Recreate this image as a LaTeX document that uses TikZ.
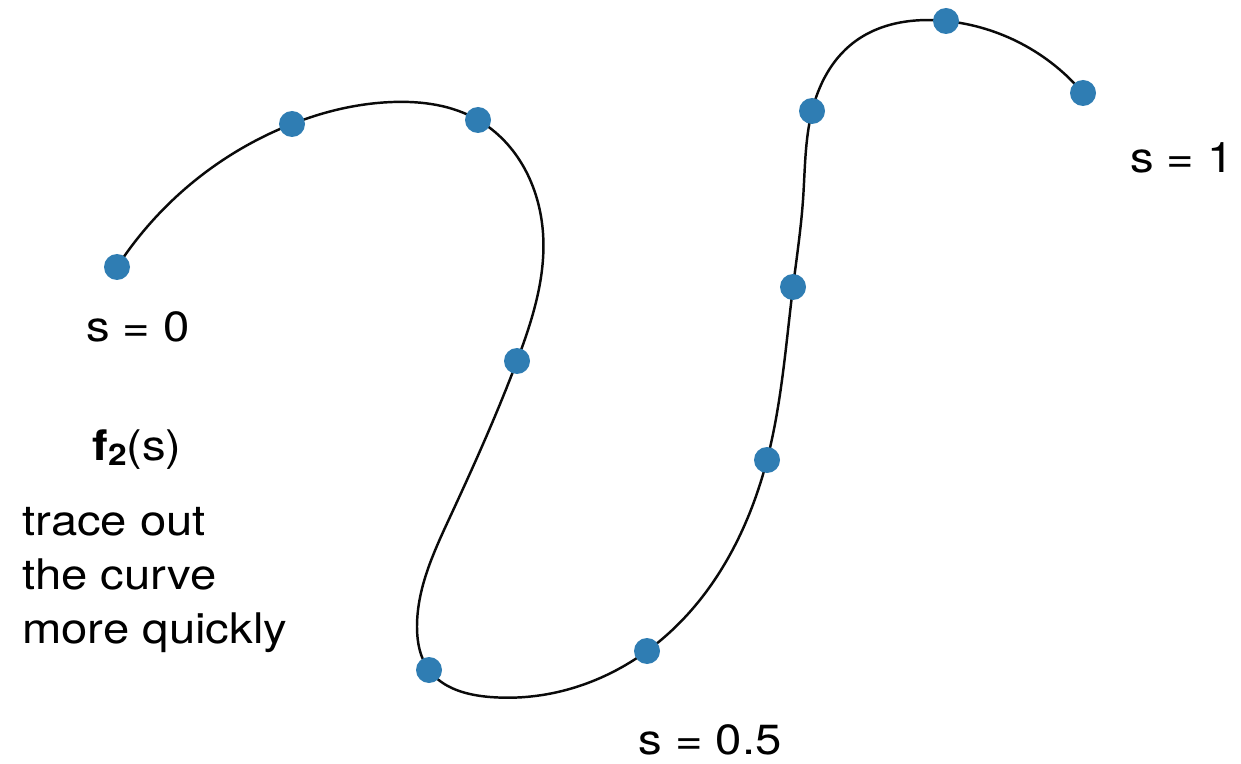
\documentclass[tikz,border=0pt]{standalone}
\usepackage{fontspec}
\setmainfont[FakeStretch=1.12]{TeX Gyre Heros}
\usepackage{tikz}
\usetikzlibrary{positioning, hobby}
\definecolor{azulPunto}{HTML}{2F7DB3}
\definecolor{negroCurva}{HTML}{0A0A0A}

\begin{document}
\begin{tikzpicture}[
        pt/.style={circle, fill=azulPunto, inner sep=0pt, minimum size=0.52cm},
        curva/.style={draw=negroCurva, line width=1.4pt, use Hobby shortcut},
        lbl/.style={inner sep=0pt, font=\fontsize{24}{31}\selectfont}
    ]
        \useasboundingbox (0,0) rectangle (24.82,15.26);

        % puntos de muestra
        \coordinate (p1) at (2.34,9.92);
        \coordinate (p2) at (5.84,12.78);
        \coordinate (p3) at (9.56,12.86);
        \coordinate (p4) at (10.34,8.04);
        \coordinate (p5) at (8.58,1.86);
        \coordinate (p6) at (12.94,2.24);
        \coordinate (p7) at (15.34,6.06);
        \coordinate (p8) at (15.86,9.52);
        \coordinate (p9) at (16.24,13.04);
        \coordinate (p10) at (18.92,14.84);
        \coordinate (p11) at (21.66,13.40);

        % guias de la curva
        \coordinate (g2) at (7.86,13.22);
        \coordinate (g3) at (10.86,10.60);
        \coordinate (g4) at (9.00,4.92);
        \coordinate (g5) at (8.34,2.72);
        \coordinate (g6) at (9.80,1.32);
        \coordinate (g7) at (16.06,11.26);
        \coordinate (g8) at (17.06,14.40);

        \draw[curva] (p1) .. (p2) .. (g2) .. (p3) .. (g3) .. (p4) .. (g4) .. (g5)
            .. (p5) .. (g6) .. (p6) .. (p7) .. (p8) .. (g7) .. (p9) .. (g8)
            .. (p10) .. (p11);

        \node[pt] (d1) at (p1) {};
        \node[pt] (d2) at (p2) {};
        \node[pt] (d3) at (p3) {};
        \node[pt] (d4) at (p4) {};
        \node[pt] (d5) at (p5) {};
        \node[pt] (d6) at (p6) {};
        \node[pt] (d7) at (p7) {};
        \node[pt] (d8) at (p8) {};
        \node[pt] (d9) at (p9) {};
        \node[pt] (d10) at (p10) {};
        \node[pt] (d11) at (p11) {};

        % etiquetas
        \node[lbl] (s0) at (2.76,8.72) {s = 0};
        \node[lbl] (s05) at (14.20,0.46) {s = 0.5};
        \node[lbl] (s1) at (23.64,12.10) {s = 1};
        \node[lbl] (fun) at (2.74,6.26) {\textbf{f}\raisebox{-0.22ex}{\fontsize{17}{17}\selectfont\bfseries 2}(s)};
        \node[lbl, anchor=north west, align=left] (nota) at (0.44,5.13)
            {trace out\\the curve\\more quickly};
    \end{tikzpicture}
\end{document}
